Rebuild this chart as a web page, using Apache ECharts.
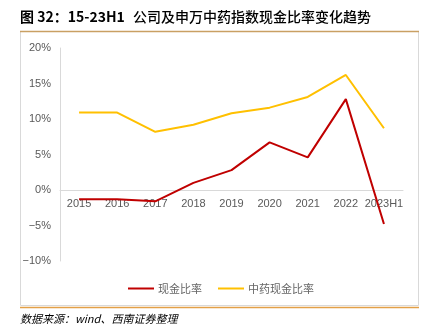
<!DOCTYPE html>
<html><head><meta charset="utf-8">
<script src="https://cdn.jsdelivr.net/npm/echarts@6/dist/echarts.min.js"></script>
<style>html,body{margin:0;padding:0;background:#fff}#c{width:439px;height:331px}</style>
</head><body><div id="c"></div>
<script>
var categories = ['2015','2016','2017','2018','2019','2020','2021','2022','2023H1'];
var cashRatio = [-1.3, -1.3, -1.6, 1.0, 2.8, 6.7, 4.6, 12.8, -4.8];
var tcmCashRatio = [10.9, 10.9, 8.2, 9.2, 10.8, 11.6, 13.1, 16.2, 8.7];
var seriesNames = ['现金比率', '中药现金比率'];
var titleBold = '图 32：15-23H1';
var titleRest = '公司及申万中药指数现金比率变化趋势';
var sourceText = '数据来源：wind、西南证券整理';

var chart = echarts.init(document.getElementById('c'));
chart.setOption({
  animation: false,
  backgroundColor: '#fff',
  graphic: [
    {type:'text', left:20, top:10, style:{text:titleBold, font:'bold 14px "Noto Sans CJK SC", sans-serif', fill:'#000'}},
    {type:'text', left:133, top:10, style:{text:titleRest, font:'500 14px "Noto Sans CJK SC", sans-serif', fill:'#000'}},
    {type:'rect', shape:{x:20.5, y:31.5, width:398, height:274}, style:{fill:'none', stroke:'#d9d9d9', lineWidth:1}},
    {type:'line', shape:{x1:20, y1:31.5, x2:419, y2:31.5}, style:{stroke:'#c9a063', lineWidth:1.5}},
    {type:'line', shape:{x1:20, y1:307.5, x2:419, y2:307.5}, style:{stroke:'#e3a047', lineWidth:1.5}},
    {type:'text', left:20, top:313, style:{text:sourceText, font:'italic 11px "Noto Sans CJK SC", sans-serif', fill:'#000'}}
  ],
  grid: {left:60, right:36, top:48, bottom:70, containLabel:false},
  legend: {
    left:123, top:278, itemWidth:26, itemHeight:2, itemGap:16, icon:'rect',
    textStyle:{color:'#666', fontSize:11, fontFamily:'"Noto Sans CJK SC", sans-serif', padding:[0,0,0,-1]},
    data: seriesNames
  },
  xAxis: {
    type:'category', data:categories, boundaryGap:true,
    axisLine:{onZero:true, lineStyle:{color:'#d9d9d9'}},
    axisTick:{inside:true, length:3, lineStyle:{color:'#d9d9d9'}},
    axisLabel:{color:'#595959', fontSize:11, fontFamily:'"Liberation Sans", Arial, sans-serif', margin:-63, interval:0}
  },
  yAxis: {
    type:'value', min:-10, max:20, interval:5,
    axisLine:{show:true, lineStyle:{color:'#d9d9d9'}},
    axisTick:{show:false},
    splitLine:{show:false},
    axisLabel:{color:'#595959', fontSize:11, fontFamily:'"Liberation Sans", Arial, sans-serif', margin:9, formatter:function(v){return (v<0?'\u2212'+(-v):v)+'%';}}
  },
  series: [
    {name:seriesNames[0], type:'line', data:cashRatio, symbol:'none', lineStyle:{color:'#c00000', width:2}, itemStyle:{color:'#c00000'}},
    {name:seriesNames[1], type:'line', data:tcmCashRatio, symbol:'none', lineStyle:{color:'#ffc000', width:2}, itemStyle:{color:'#ffc000'}}
  ]
});
</script></body></html>
